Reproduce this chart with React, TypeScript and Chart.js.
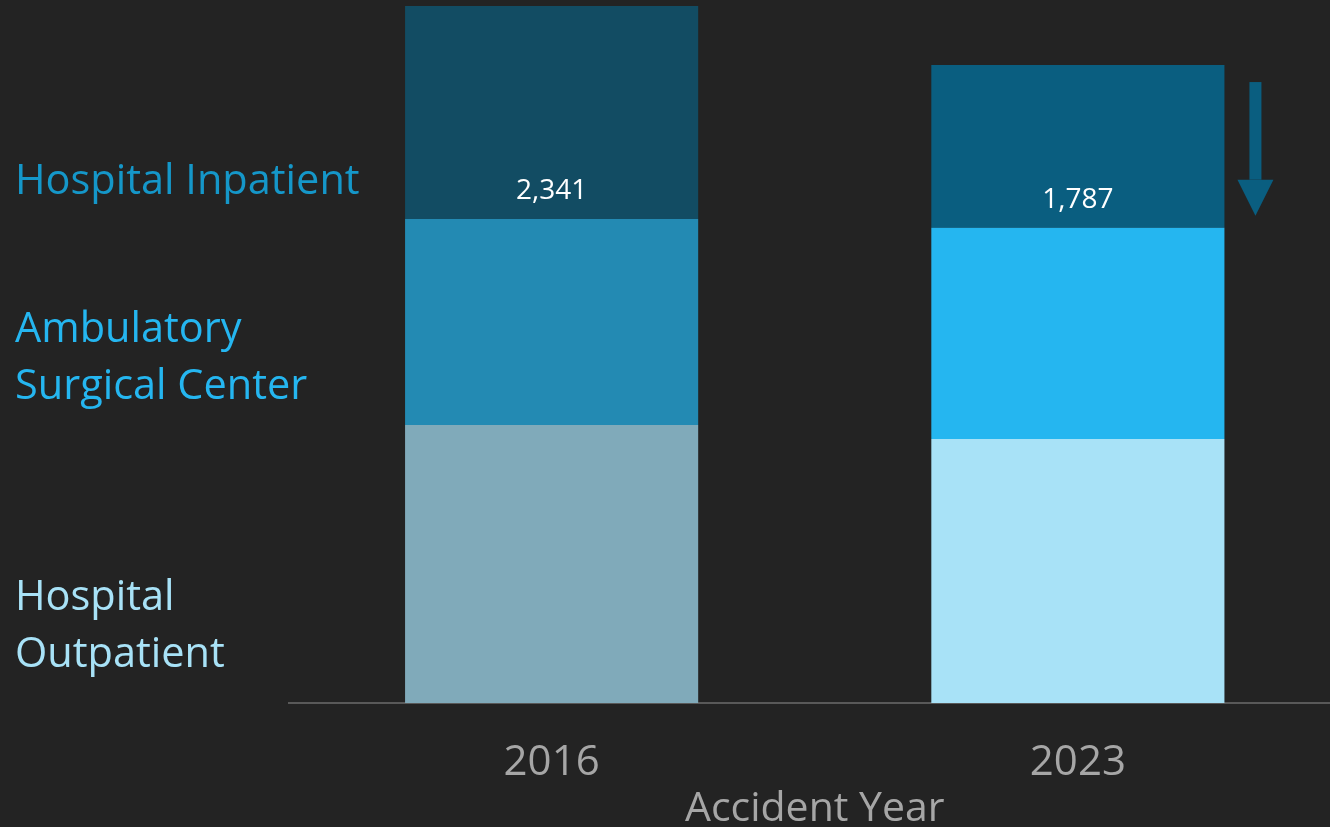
import React, { useEffect, useRef } from "react";
import { Chart, registerables } from "chart.js";

Chart.register(...registerables);

const years = ["2016", "2023"];
const outpatient = [3055, 2901];
const ambulatory = [2264, 2322];
const inpatient = [2341, 1787];

const outpatientColors = ["#80aaba", "#a8e2f7"];
const ambulatoryColors = ["#238ab3", "#25b6f0"];
const inpatientColors = ["#124c63", "#0a5e80"];

const sideLabels = [
  { lines: ["Hospital Inpatient"], color: "#1597c9", y: 194 },
  { lines: ["Ambulatory", "Surgical Center"], color: "#25b6f0", y: 342 },
  { lines: ["Hospital", "Outpatient"], color: "#a8e2f7", y: 610 },
];

const FONT = "'Open Sans', 'Noto Sans', sans-serif";

export default function App() {
  const ref = useRef<HTMLCanvasElement | null>(null);

  useEffect(() => {
    document.body.style.margin = "0";
    document.body.style.background = "#232323";
    const canvas = ref.current!;

    const overlay = {
      id: "overlay",
      afterDatasetsDraw(chart: any) {
        const ctx = chart.ctx;
        ctx.save();
        // value labels on inpatient segment
        const meta = chart.getDatasetMeta(2);
        ctx.fillStyle = "#ffffff";
        ctx.font = `28px ${FONT}`;
        ctx.textAlign = "center";
        ctx.textBaseline = "middle";
        meta.data.forEach((el: any, i: number) => {
          ctx.fillText(inpatient[i].toLocaleString("en-US"), el.x, el.base - 28);
        });
        // down arrow next to the 2023 bar
        const el = meta.data[1];
        const right = el.x + el.width / 2;
        const cx = right + 31;
        const top = el.y + 17;
        const headTop = el.base - 48;
        const tip = el.base - 12;
        ctx.fillStyle = "#0a5e80";
        ctx.fillRect(cx - 6, top, 12, headTop - top);
        ctx.beginPath();
        ctx.moveTo(cx - 18, headTop);
        ctx.lineTo(cx + 18, headTop);
        ctx.lineTo(cx, tip);
        ctx.closePath();
        ctx.fill();
        // side labels
        ctx.textAlign = "left";
        ctx.textBaseline = "alphabetic";
        ctx.font = `41.5px ${FONT}`;
        sideLabels.forEach((s) => {
          ctx.fillStyle = s.color;
          s.lines.forEach((line, j) => {
            ctx.fillText(line, 15, s.y + j * 57);
          });
        });
        ctx.restore();
      },
    };

    const chart = new Chart(canvas, {
      type: "bar",
      data: {
        labels: years,
        datasets: [
          { label: "Hospital Outpatient", data: outpatient, backgroundColor: outpatientColors, borderWidth: 0 },
          { label: "Ambulatory Surgical Center", data: ambulatory, backgroundColor: ambulatoryColors, borderWidth: 0 },
          { label: "Hospital Inpatient", data: inpatient, backgroundColor: inpatientColors, borderWidth: 0 },
        ],
      },
      options: {
        animation: false,
        responsive: false,
        devicePixelRatio: 1,
        layout: { padding: { left: 288.5, right: 0, top: 0, bottom: 0 } },
        plugins: {
          legend: { display: false },
          tooltip: { enabled: false },
          title: { display: false },
        },
        datasets: {
          bar: { categoryPercentage: 1, barPercentage: 0.557 },
        },
        scales: {
          x: {
            stacked: true,
            grid: { display: false, drawTicks: false },
            border: { display: true, color: "#595959", width: 2 },
            ticks: {
              color: "#a6a6a6",
              font: { family: FONT, size: 42, lineHeight: 1.2 },
              padding: 35,
            },
            title: {
              display: true,
              text: "Accident Year",
              color: "#a6a6a6",
              font: { family: FONT, size: 41, lineHeight: 1.2 },
              padding: { top: 0, bottom: 6 },
            },
            afterFit(scale: any) {
              scale.height = 137;
            },
          },
          y: {
            stacked: true,
            display: false,
            min: 0,
            max: 7725,
          },
        },
      },
      plugins: [overlay],
    });
    return () => chart.destroy();
  }, []);

  return (
    <div style={{ width: 1330, height: 827, overflow: "hidden", background: "#232323", position: "relative" }}>
      <canvas ref={ref} width={1341} height={840} style={{ display: "block" }} />
    </div>
  );
}
